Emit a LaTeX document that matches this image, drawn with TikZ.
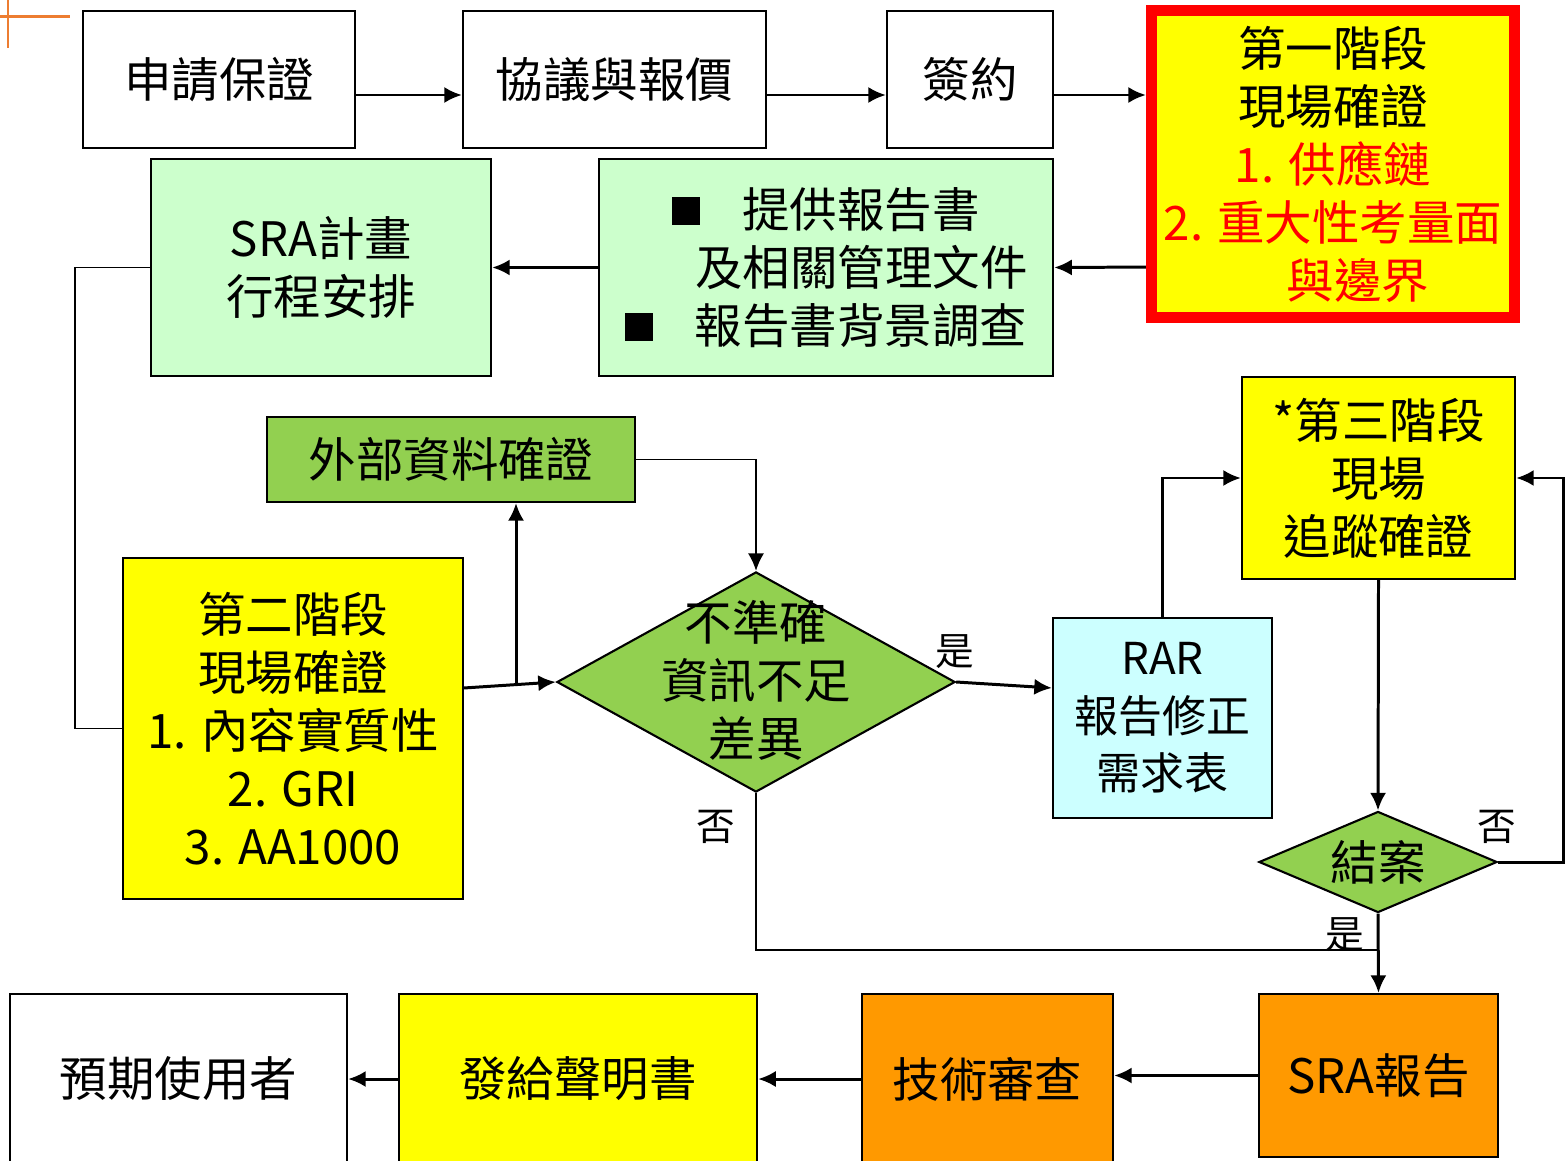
\documentclass[tikz,border=0pt]{standalone}
\usepackage{fontspec}
\setmainfont{Noto Sans CJK TC}
\usetikzlibrary{shapes.geometric,arrows.meta}
\definecolor{sunyellow}{HTML}{FFFF00}
\definecolor{palegreen}{HTML}{CCFFCC}
\definecolor{leafgreen}{HTML}{92D050}
\definecolor{palecyan}{HTML}{CCFFFF}
\definecolor{deeporange}{HTML}{FF9900}
\definecolor{markorange}{HTML}{ED7D31}
\tikzstyle{box}=[draw, line width=0.6pt, inner sep=0pt, align=center, font=\fontsize{13.5pt}{16.5pt}\selectfont]
\tikzstyle{boxyellow}=[box, fill=sunyellow]
\tikzstyle{boxpale}=[box, fill=palegreen]
\tikzstyle{boxgreen}=[box, fill=leafgreen]
\tikzstyle{boxcyan}=[box, fill=palecyan, font=\fontsize{12.5pt}{16.3pt}\selectfont]
\tikzstyle{boxorange}=[box, fill=deeporange]
\tikzstyle{decision}=[diamond, draw, line width=0.6pt, fill=leafgreen, inner sep=0pt, font=\fontsize{13.5pt}{16.5pt}\selectfont]
\tikzstyle{flow}=[-{Latex[length=5pt,width=4.6pt]}, line width=0.85pt]
\tikzstyle{thinflow}=[-{Latex[length=5pt,width=4.6pt]}, line width=0.55pt]
\tikzstyle{answer}=[inner sep=0pt, font=\fontsize{11pt}{13pt}\selectfont]
\newcommand{\bulletsq}{\raisebox{0.02cm}{\rule{0.28cm}{0.28cm}}\hspace*{0.42cm}}

\begin{document}
\begin{tikzpicture}[x=0.01cm, y=-0.01cm]
		   \useasboundingbox (0,0) rectangle (1567,1161);
		   \draw[markorange, line width=0.85pt] (0,17) -- (70,17);
		   \draw[markorange, line width=0.85pt] (8,0) -- (8,48);
		   \begin{scope}
			   \node (apply) at (219,79.5)[box, minimum width=2.72cm, minimum height=1.37cm] {申請保證};
			   \node (nego) at (614.5,79.5)[box, minimum width=3.03cm, minimum height=1.37cm] {協議與報價};
			   \node (sign) at (970,79.5)[box, minimum width=1.66cm, minimum height=1.37cm] {簽約};
			   \node (phase1) at (1333,164)[boxyellow, draw=red, line width=3.1pt, minimum width=3.63cm, minimum height=3.07cm]
			       {第一階段\\現場確證\\\textcolor{red}{1. 供應鏈}\\\textcolor{red}{2. 重大性考量面}\\\hspace*{0.5cm}\textcolor{red}{與邊界}};
			   \node (plan) at (321,267.5)[boxpale, minimum width=3.4cm, minimum height=2.17cm] {SRA計畫\\行程安排};
			   \node (provide) at (826,267.5)[boxpale, minimum width=4.54cm, minimum height=2.17cm]
			       {\bulletsq 提供報告書\\\hspace*{0.71cm}及相關管理文件\\\bulletsq 報告書背景調查};
			   \node (ext) at (451,459.5)[boxgreen, minimum width=3.68cm, minimum height=0.85cm] {外部資料確證};
			   \node (phase2) at (293,728.5)[boxyellow, minimum width=3.4cm, minimum height=3.41cm]
			       {第二階段\\現場確證\\1. 內容實質性\\2. GRI\\3. AA1000};
			   \node (q1) at (756,682)[decision, minimum width=3.98cm, minimum height=2.2cm] {};
			   \node (q1text) at (756,680)[inner sep=0pt, align=center, font=\fontsize{13.5pt}{16.5pt}\selectfont] {不準確\\資訊不足\\差異};
			   \node (rar) at (1162.5,718)[boxcyan, minimum width=2.19cm, minimum height=2cm] {RAR\\報告修正\\需求表};
			   \node (phase3) at (1378.5,478)[boxyellow, minimum width=2.73cm, minimum height=2.02cm] {*第三階段\\現場\\追蹤確證};
			   \node (close) at (1378,862)[decision, minimum width=2.38cm, minimum height=1.01cm, aspect=2.36] {結案};
			   \node (report) at (1378.5,1075.5)[boxorange, minimum width=2.39cm, minimum height=1.63cm] {SRA報告};
			   \node (review) at (987.5,1079)[boxorange, minimum width=2.51cm, minimum height=1.7cm] {技術審查};
			   \node (issue) at (578,1079)[boxyellow, minimum width=3.58cm, minimum height=1.7cm] {發給聲明書};
			   \node (users) at (178.5,1079)[box, minimum width=3.37cm, minimum height=1.7cm] {預期使用者};
			   \node (yes1) at (955,652)[answer] {是};
			   \node (no1) at (716,827)[answer] {否};
			   \node (no2) at (1497,827)[answer] {否};
			   \node (yes2) at (1345,935)[answer] {是};
			   \coordinate (fork) at (516,685);
			   \coordinate (merge) at (1378,950);
		   \end{scope}
		   \begin{scope}
			   \path [flow] ([yshift=-0.155cm]apply.east) edge ([yshift=-0.155cm]nego.west);
			   \path [flow] ([yshift=-0.155cm]nego.east) edge ([yshift=-0.155cm]sign.west);
			   \path [flow] ([yshift=-0.155cm]sign.east) edge ([yshift=-0.155cm]sign.east -| phase1.west);
			   \path [flow] ([yshift=-1.03cm]phase1.west) edge (provide.east);
			   \path [flow] (provide.west) edge (plan.east);
			   \draw [line width=0.55pt] (plan.west) -- ++(-75,0) |- (phase2.west);
			   \path [flow] ([yshift=0.405cm]phase2.east) edge (q1.west);
			   \path [flow] (fork) edge (fork |- ext.south);
			   \draw [thinflow] (ext.east) -| (q1.north);
			   \path [flow] (q1.east) edge ([yshift=0.3cm]rar.west);
			   \draw [flow] (rar.north) |- (phase3.west);
			   \path [flow] (phase3.south) edge (close.north);
			   \draw [flow] (close.east) -- ++(65,0) |- (phase3.east);
			   \path [flow] (close.south) edge (report.north);
			   \draw [line width=0.55pt] (q1.south) |- (merge);
			   \path [flow] (report.west) edge (report.west -| review.east);
			   \path [flow] (review.west) edge (review.west -| issue.east);
			   \path [flow] (issue.west) edge (issue.west -| users.east);
		   \end{scope}
	   \end{tikzpicture}
\end{document}
